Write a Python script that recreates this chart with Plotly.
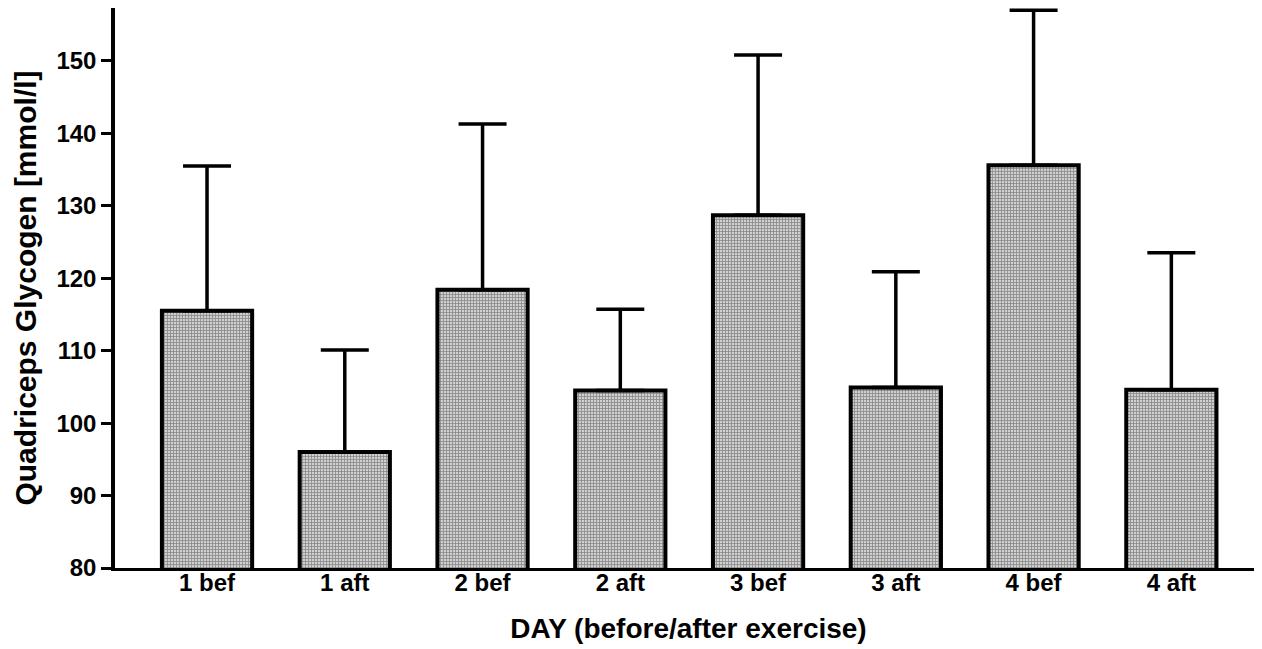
import plotly.graph_objects as go

categories = ["1 bef", "1 aft", "2 bef", "2 aft", "3 bef", "3 aft", "4 bef", "4 aft"]
means = [115.5, 96.0, 118.4, 104.5, 128.7, 104.9, 135.6, 104.6]
sd = [20.0, 14.1, 22.9, 11.2, 22.1, 16.0, 21.4, 18.9]
y_ticks = [80, 90, 100, 110, 120, 130, 140, 150]

font_family = "Arial, 'Liberation Sans', sans-serif"

fig = go.Figure()
fig.add_trace(go.Bar(
    x=list(range(len(categories))),
    y=means,
    width=0.655,
    marker=dict(
        color="#b0b0b0",
        line=dict(color="black", width=4),
        pattern=dict(shape="+", size=3, solidity=0.5, fgcolor="#4a4a4a", bgcolor="#d0d0d0"),
    ),
    error_y=dict(
        type="data", symmetric=False, array=sd, arrayminus=[0] * len(sd),
        color="black", thickness=3.5, width=24,
    ),
    showlegend=False,
))

# the page body has an 8px margin, so the figure is sized 8px smaller
fig.update_layout(
    width=1254, height=641,
    margin=dict(l=107, r=0, t=0, b=81, autoexpand=False),
    paper_bgcolor="white", plot_bgcolor="white",
    font=dict(family=font_family, color="black"),
    xaxis=dict(
        range=[-0.668, 7.658],
        tickmode="array", tickvals=list(range(len(categories))), ticktext=categories,
        showline=True, linecolor="black", linewidth=3,
        ticks="", showgrid=False, zeroline=False,
        ticklabelstandoff=-9,
        tickfont=dict(size=24, weight="bold", family=font_family),
        title=dict(text="DAY (before/after exercise)", standoff=24,
                   font=dict(size=28, weight="bold", family=font_family)),
    ),
    yaxis=dict(
        range=[80, 157.3],
        tickmode="array", tickvals=y_ticks,
        showline=True, linecolor="black", linewidth=3.5,
        ticks="outside", ticklen=10, tickwidth=3, tickcolor="black",
        showgrid=False, zeroline=False,
        tickfont=dict(size=24, weight="bold", family=font_family),
        title=dict(text="Quadriceps Glycogen [mmol/l]", standoff=12,
                   font=dict(size=30, weight="bold", family=font_family)),
    ),
)

fig.write_html("out.html")
